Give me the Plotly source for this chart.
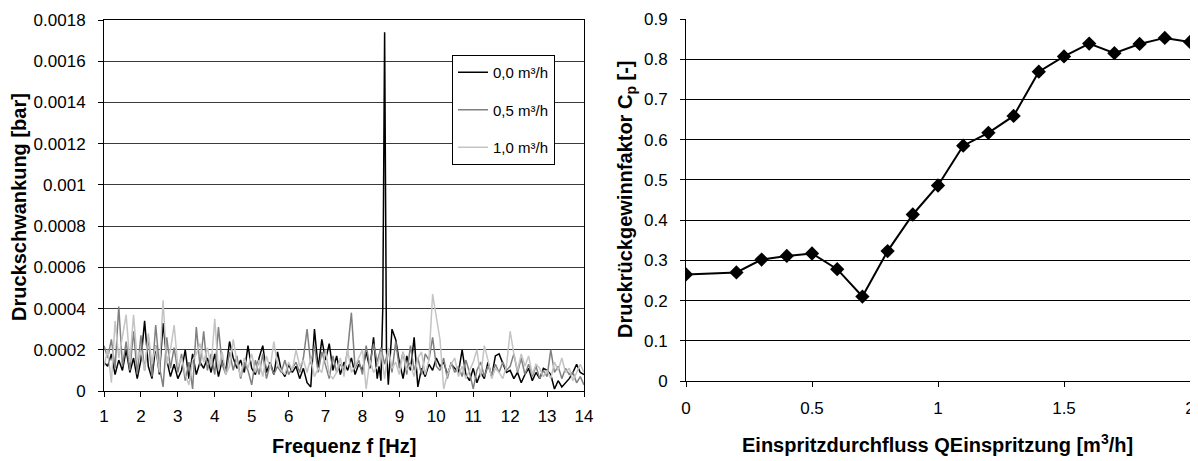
import plotly.graph_objects as go

# ---------------- Left chart data (pressure fluctuation spectra) ----------------
freq = [round(1.0 + 0.1 * i, 1) for i in range(131)]  # 1.0 .. 14.0 Hz

amp_00 = [
    0.00014, 0.00012, 0.00018, 0.00008, 0.00015, 0.00010, 0.00020, 0.00009, 0.00016, 0.00006,
    0.00015, 0.00034, 0.00012, 0.00006, 0.00022, 0.00008, 0.00033, 0.00015, 0.00007, 0.00013,
    0.00006, 0.00010, 0.00020, 0.00006, 0.00018, 0.00008, 0.00014, 0.00011, 0.00016, 0.00009,
    0.00018, 0.00007, 0.00015, 0.00010, 0.00024, 0.00016, 0.00011, 0.00015, 0.00009, 0.00022,
    0.00011, 0.00008, 0.00016, 0.00022, 0.00009, 0.00014, 0.00008, 0.00019, 0.00010, 0.00007,
    0.00013, 0.00009, 0.00012, 0.00006, 0.00011, 0.00004, 0.00002, 0.00030, 0.00011, 0.00025,
    0.00015, 0.00023, 0.00010, 0.00017, 0.00008, 0.00014, 0.00010, 0.00016, 0.00008, 0.00013,
    0.00010, 0.00019, 0.00011, 0.00026, 0.00006, 0.00005, 0.00174, 0.00003, 0.00030, 0.00025,
    0.00014, 0.00006, 0.00017, 0.00010, 0.00026, 0.00002, 0.00011, 0.00007, 0.00013, 0.00010,
    0.00016, 0.00012, 0.00014, 0.00008, 0.00013, 0.00011, 0.00009, 0.00020, 0.00008, 0.00005,
    0.00011, 0.00004, 0.00009, 0.00006, 0.00014, 0.00007, 0.00017, 0.00018, 0.00013, 0.00009,
    0.00010, 0.00006, 0.00009, 0.00004, 0.00008, 0.00011, 0.00005, 0.00009, 0.00006, 0.00011,
    0.00010, 0.00008, 0.00001, 0.00005, 0.00002, 0.00004, 0.00006, 0.00009, 0.00013, 0.00009,
    0.00008,
]
# extra samples that shape the narrow resonance peak of the 0,0 m³/h curve
peak_freq = [8.45, 8.55, 8.65]
peak_amp = [0.00012, 0.00040, 0.00020]

amp_05 = [
    0.00022, 0.00016, 0.00025, 0.00011, 0.00041, 0.00012, 0.00024, 0.00010, 0.00029, 0.00008,
    0.00027, 0.00010, 0.00026, 0.00007, 0.00032, 0.00012, 0.00002, 0.00026, 0.00011, 0.00021,
    0.00009, 0.00018, 0.00005, 0.00014, 0.00001, 0.00031, 0.00012, 0.00029, 0.00010, 0.00018,
    0.00008, 0.00031, 0.00013, 0.00008, 0.00019, 0.00010, 0.00017, 0.00006, 0.00014, 0.00010,
    0.00003, 0.00015, 0.00008, 0.00018, 0.00006, 0.00013, 0.00008, 0.00012, 0.00009, 0.00015,
    0.00008, 0.00011, 0.00014, 0.00009, 0.00016, 0.00030, 0.00013, 0.00022, 0.00009, 0.00019,
    0.00012, 0.00006, 0.00017, 0.00009, 0.00013, 0.00010, 0.00020, 0.00038, 0.00011, 0.00015,
    0.00008, 0.00022, 0.00012, 0.00023, 0.00014, 0.00021, 0.00013, 0.00020, 0.00009, 0.00024,
    0.00011, 0.00019, 0.00008, 0.00022, 0.00010, 0.00016, 0.00008, 0.00018, 0.00015, 0.00026,
    0.00012, 0.00010, 0.00016, 0.00006, 0.00014, 0.00009, 0.00012, 0.00007, 0.00015, 0.00009,
    0.00001, 0.00010, 0.00014, 0.00007, 0.00012, 0.00008, 0.00013, 0.00009, 0.00014, 0.00010,
    0.00012, 0.00018, 0.00009, 0.00016, 0.00008, 0.00013, 0.00007, 0.00012, 0.00006, 0.00010,
    0.00007, 0.00020, 0.00009, 0.00012, 0.00006, 0.00011, 0.00008, 0.00009, 0.00004, 0.00007,
    0.00003,
]

amp_10 = [
    0.00012, 0.00020, 0.00004, 0.00034, 0.00016, 0.00026, 0.00037, 0.00014, 0.00037, 0.00015,
    0.00020, 0.00010, 0.00028, 0.00013, 0.00022, 0.00009, 0.00044, 0.00013, 0.00020, 0.00032,
    0.00012, 0.00016, 0.00008, 0.00003, 0.00015, 0.00018, 0.00023, 0.00014, 0.00021, 0.00012,
    0.00035, 0.00010, 0.00019, 0.00008, 0.00012, 0.00025, 0.00014, 0.00007, 0.00016, 0.00011,
    0.00018, 0.00009, 0.00015, 0.00007, 0.00017, 0.00011, 0.00024, 0.00013, 0.00010, 0.00008,
    0.00014, 0.00010, 0.00020, 0.00012, 0.00015, 0.00009, 0.00016, 0.00007, 0.00011, 0.00009,
    0.00020, 0.00008, 0.00006, 0.00009, 0.00016, 0.00007, 0.00020, 0.00009, 0.00012, 0.00016,
    0.00020, 0.00001, 0.00015, 0.00009, 0.00012, 0.00019, 0.00006, 0.00021, 0.00011, 0.00014,
    0.00008, 0.00019, 0.00010, 0.00013, 0.00007, 0.00016, 0.00019, 0.00008, 0.00015, 0.00047,
    0.00036, 0.00025, 0.00001, 0.00008, 0.00013, 0.00016, 0.00007, 0.00012, 0.00006, 0.00010,
    0.00014, 0.00020, 0.00007, 0.00022, 0.00015, 0.00006, 0.00011, 0.00009, 0.00006, 0.00012,
    0.00029, 0.00018, 0.00010, 0.00018, 0.00012, 0.00017, 0.00008, 0.00013, 0.00011, 0.00007,
    0.00010, 0.00006, 0.00014, 0.00010, 0.00016, 0.00009, 0.00011, 0.00005, 0.00009, 0.00013,
    0.00009,
]

series_names = ["0,0 m³/h", "0,5 m³/h", "1,0 m³/h"]
series_colors = ["#000000", "#808080", "#c4c4c4"]

left_ytick_vals = [0, 0.0002, 0.0004, 0.0006, 0.0008, 0.001, 0.0012, 0.0014, 0.0016, 0.0018]
left_ytick_text = ["0", "0.0002", "0.0004", "0.0006", "0.0008", "0.001", "0.0012", "0.0014", "0.0016", "0.0018"]
left_xtick_vals = list(range(1, 15))

# ---------------- Right chart data (pressure recovery factor) ----------------
q_inj = [0.0, 0.2, 0.3, 0.4, 0.5, 0.6, 0.7, 0.8, 0.9, 1.0,
         1.1, 1.2, 1.3, 1.4, 1.5, 1.6, 1.7, 1.8, 1.9, 2.0]
cp = [0.265, 0.270, 0.302, 0.311, 0.317, 0.278, 0.210, 0.323, 0.414, 0.486,
      0.585, 0.617, 0.659, 0.769, 0.807, 0.839, 0.815, 0.838, 0.853, 0.843]

# ---------------- Figure ----------------
FONT = "Liberation Sans, Arial, sans-serif"
fig = go.Figure()

pts0 = sorted(list(zip(freq, amp_00)) + list(zip(peak_freq, peak_amp)))
f0 = [p[0] for p in pts0]
a0 = [p[1] for p in pts0]

fig.add_trace(go.Scatter(x=f0, y=a0, mode="lines", name=series_names[0],
                         line=dict(color=series_colors[0], width=1.5),
                         xaxis="x", yaxis="y", legendgroup="a"))
fig.add_trace(go.Scatter(x=freq, y=amp_05, mode="lines", name=series_names[1],
                         line=dict(color=series_colors[1], width=1.5),
                         xaxis="x", yaxis="y", legendgroup="b"))
fig.add_trace(go.Scatter(x=freq, y=amp_10, mode="lines", name=series_names[2],
                         line=dict(color=series_colors[2], width=1.5),
                         xaxis="x", yaxis="y", legendgroup="c"))

fig.add_trace(go.Scatter(x=q_inj, y=cp, mode="lines+markers", showlegend=False,
                         line=dict(color="#000000", width=2),
                         marker=dict(symbol="diamond", size=11, color="#000000"),
                         xaxis="x2", yaxis="y2"))

# The page body has an 8 px margin, so the figure is sized to fill the window from there.
OFF = 8
W, H = 1198 - OFF, 461 - OFF
def px_x(p): return (p - OFF) / W
def px_y(p): return 1 - (p - OFF) / H

TICK_FONT = dict(family=FONT, size=17, color="#000000")
TITLE_FONT = dict(family=FONT, size=20, color="#000000")

axis_common = dict(showline=True, linecolor="#000000", linewidth=1,
                   ticks="outside", tickcolor="#000000", ticklen=5,
                   tickfont=TICK_FONT, zeroline=False, automargin=False)

title_common = dict(xref="paper", yref="paper", showarrow=False, font=TITLE_FONT,
                    xanchor="center", yanchor="middle")

fig.update_layout(
    width=W, height=H,
    margin=dict(l=0, r=0, t=0, b=0, pad=0),
    paper_bgcolor="white", plot_bgcolor="white",
    font=dict(family=FONT, color="#000000"),
    xaxis=dict(domain=[px_x(104), px_x(584)], range=[1, 14], tickvals=left_xtick_vals,
               mirror=True, showgrid=False, anchor="y", ticklabelstandoff=5, **axis_common),
    yaxis=dict(domain=[px_y(391), px_y(20)], range=[0, 0.0018], tickvals=left_ytick_vals,
               ticktext=left_ytick_text, mirror=True, showgrid=True,
               gridcolor="#3a3a3a", gridwidth=1, anchor="x", ticklabelstandoff=9, **axis_common),
    xaxis2=dict(domain=[px_x(686), px_x(1190)], range=[0, 2], dtick=0.5,
                showgrid=False, anchor="y2", ticklabelstandoff=7, **axis_common),
    yaxis2=dict(domain=[px_y(381), px_y(19)], range=[0, 0.9], dtick=0.1,
                showgrid=True, gridcolor="#000000", gridwidth=1, anchor="x2",
                ticklabelstandoff=9, **axis_common),
    legend=dict(x=px_x(452), y=px_y(55), xanchor="left", yanchor="top",
                bgcolor="white", bordercolor="#000000", borderwidth=1,
                font=dict(family=FONT, size=15, color="#000000"),
                tracegroupgap=15, traceorder="grouped", itemwidth=30),
    annotations=[
        dict(text="<b>Frequenz f [Hz]</b>", x=px_x(344), y=px_y(446), **title_common),
        dict(text="<b>Druckschwankung [bar]</b>", x=px_x(19), y=px_y(207),
             textangle=-90, **title_common),
        dict(text="<b>Einspritzdurchfluss QEinspritzung [m<sup>3</sup>/h]</b>",
             x=px_x(937), y=px_y(443), **title_common),
        dict(text="<b>Druckrückgewinnfaktor C<sub>p</sub> [-]</b>", x=px_x(627), y=px_y(199),
             textangle=-90, **title_common),
    ],
)

fig.write_html("out.html")
